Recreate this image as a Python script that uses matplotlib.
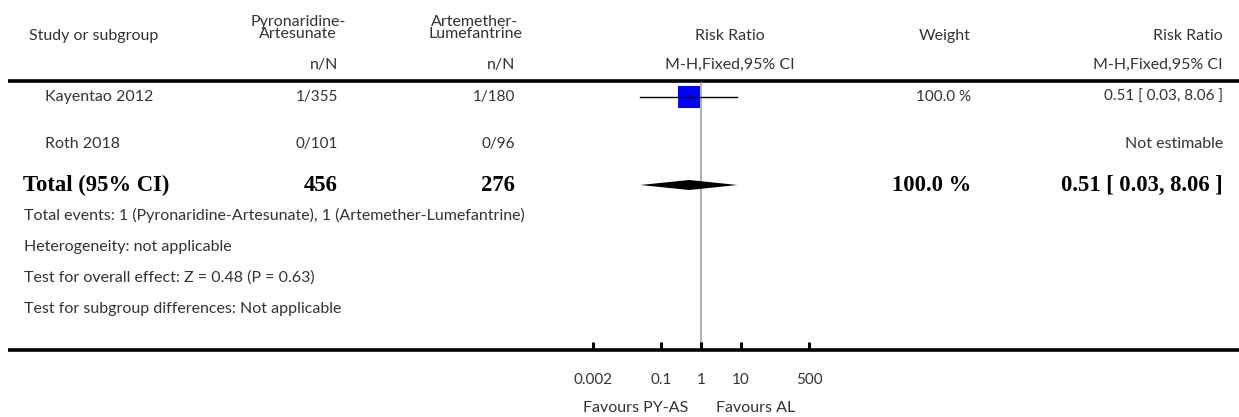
import numpy as np
import matplotlib
matplotlib.use("Agg")
import matplotlib.pyplot as plt

# Datos del forest plot
studies = ["Kayentao 2012", "Roth 2018"]
pa_counts = ["1/355", "0/101"]
al_counts = ["1/180", "0/96"]
weights = ["100.0 %", ""]
rr_text = ["0.51 [ 0.03, 8.06 ]", "Not estimable"]
rr_est = [0.51, np.nan]
rr_lo = [0.03, np.nan]
rr_hi = [8.06, np.nan]

total_pa = "456"
total_al = "276"
total_weight = "100.0 %"
total_text = "0.51 [ 0.03, 8.06 ]"
total_est = 0.51
total_lo = 0.03
total_hi = 8.06

footnotes = [
    "Total events: 1 (Pyronaridine-Artesunate), 1 (Artemether-Lumefantrine)",
    "Heterogeneity: not applicable",
    "Test for overall effect: Z = 0.48 (P = 0.63)",
    "Test for subgroup differences: Not applicable",
]
tick_vals = [0.002, 0.1, 1, 10, 500]
tick_labels = ["0.002", "0.1", "1", "10", "500"]

W, H = 1239, 417
fig = plt.figure(figsize=(W / 100, H / 100), dpi=100)

# Capa de texto en coordenadas de pixel
ax = fig.add_axes([0, 0, 1, 1])
ax.set_xlim(0, W)
ax.set_ylim(H, 0)
ax.axis("off")

sans = dict(family="Lato", color="#333333", fontsize=11.5)
num = dict(family="Lato", color="#333333", fontsize=11)
bold = dict(family="Liberation Serif", fontweight="bold", color="black", fontsize=16.3)

c1, c2 = 338, 515      # borde derecho de columnas n/N
c_w, c_rr = 971, 1223  # borde derecho Weight / Risk Ratio

# Cabecera
ax.text(29, 36, "Study or subgroup", ha="left", va="center", **sans)
ax.text(298, 28, "Pyronaridine-\nArtesunate", ha="center", va="center",
        linespacing=0.9, **sans)
ax.text(475, 28, "Artemether-\nLumefantrine", ha="center", va="center",
        linespacing=0.9, **sans)
ax.text(730, 36, "Risk Ratio", ha="center", va="center", **sans)
ax.text(c_w, 36, "Weight", ha="right", va="center", **sans)
ax.text(c_rr, 36, "Risk Ratio", ha="right", va="center", **sans)
ax.text(c1, 65, "n/N", ha="right", va="center", **sans)
ax.text(c2, 65, "n/N", ha="right", va="center", **sans)
ax.text(730, 65, "M-H,Fixed,95% CI", ha="center", va="center", **sans)
ax.text(c_rr, 65, "M-H,Fixed,95% CI", ha="right", va="center", **sans)

ax.plot([8, W], [80.5, 80.5], color="black", lw=2.6, solid_capstyle="butt")
ax.plot([8, W], [349.5, 349.5], color="black", lw=2.6, solid_capstyle="butt")

row_y = [97, 144]
for i, y in enumerate(row_y):
    ax.text(45, y, studies[i], ha="left", va="center", **sans)
    ax.text(c1, y, pa_counts[i], ha="right", va="center", **num)
    ax.text(c2, y, al_counts[i], ha="right", va="center", **num)
    ax.text(c_w, y, weights[i], ha="right", va="center", **num)
    ax.text(c_rr, y, rr_text[i], ha="right", va="center",
            **(num if "[" in rr_text[i] else sans))

total_y = 185
ax.text(23, total_y, "Total (95% CI)", ha="left", va="center", **bold)
ax.text(c1, total_y, total_pa, ha="right", va="center", **bold)
ax.text(c2, total_y, total_al, ha="right", va="center", **bold)
ax.text(c_w, total_y, total_weight, ha="right", va="center", **bold)
ax.text(c_rr, total_y, total_text, ha="right", va="center", **bold)

for k, line in enumerate(footnotes):
    ax.text(24, 215 + 31.5 * k, line, ha="left", va="center", **sans)

ax.text(636, 408, "Favours PY-AS", ha="center", va="center", **sans)
ax.text(756, 408, "Favours AL", ha="center", va="center", **sans)

# Eje del forest plot (escala log): 0.002 -> 593 px, 500 -> 809 px
x0, x1 = 593.2, 809.0
y0, y1 = 81.5, 349.5
fp = fig.add_axes([x0 / W, 1 - y1 / H, (x1 - x0) / W, (y1 - y0) / H])
fp.set_xscale("log")
fp.set_xlim(0.002, 500)
fp.set_ylim(y1, y0)
fp.patch.set_visible(False)
for s in ["top", "left", "right", "bottom"]:
    fp.spines[s].set_visible(False)
fp.set_yticks([])
fp.set_xticks(tick_vals)
fp.set_xticklabels(tick_labels)
fp.minorticks_off()
fp.tick_params(axis="x", direction="in", length=5.5, width=2.2, color="black",
               pad=17, labelsize=11, labelcolor="#333333")
for lab in fp.get_xticklabels():
    lab.set_family("Lato")

fp.axvline(1, color="#999999", lw=1.1, zorder=1)

for i, y in enumerate(row_y):
    if np.isnan(rr_est[i]):
        continue
    fp.plot(rr_est[i], y, marker="s", markersize=15.5, color="#0000ff",
            markeredgewidth=0, zorder=2, clip_on=False)
    fp.plot([rr_lo[i], rr_hi[i]], [y, y], color="black", lw=1.0, zorder=3)
    fp.plot(rr_est[i], y, marker="|", markersize=4, color="black",
            markeredgewidth=0.8, zorder=4)

fp.fill([total_lo, total_est, total_hi, total_est],
        [total_y, total_y - 5, total_y, total_y + 5],
        color="black", lw=0, zorder=3)

fig.savefig("out.png", dpi=100)
